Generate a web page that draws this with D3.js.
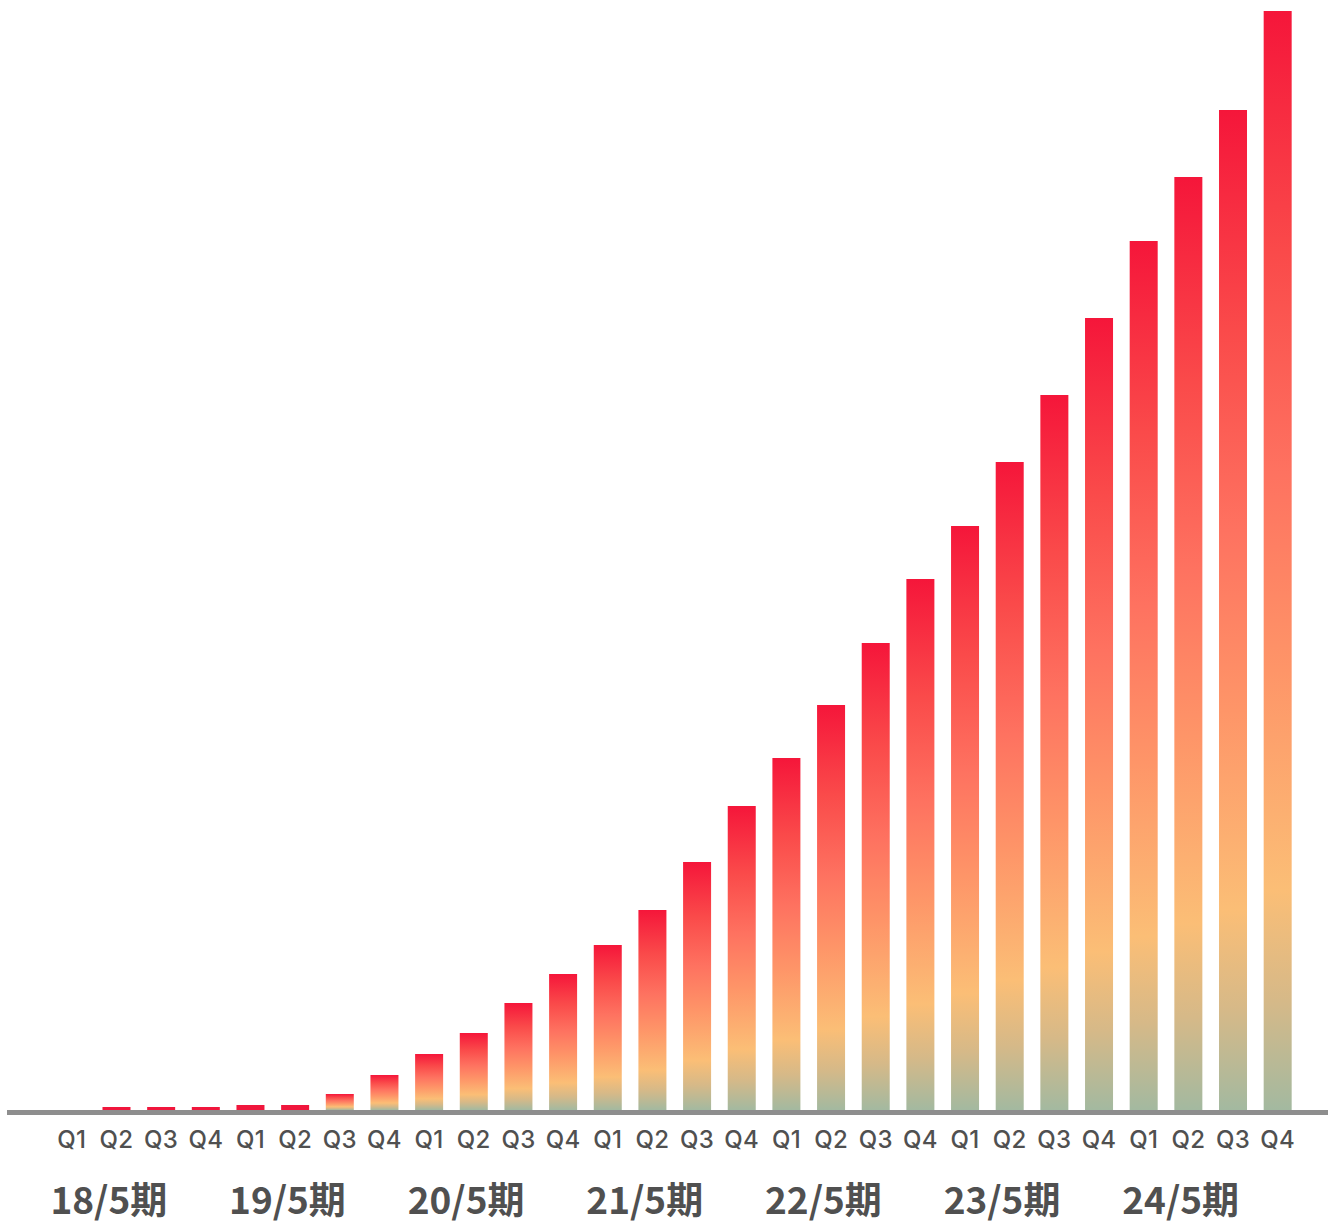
<!DOCTYPE html>
<html>
<head>
<meta charset="utf-8">
<script src="https://cdn.jsdelivr.net/npm/d3@7"></script>
<style>
  html, body { margin: 0; padding: 0; background: #ffffff; }
  svg { display: block; }
</style>
</head>
<body>
<svg id="chart" width="1328" height="1225"></svg>
<script>
// ---- data ----
const years = ["18/5期", "19/5期", "20/5期", "21/5期", "22/5期", "23/5期", "24/5期"];
const quarters = ["Q1", "Q2", "Q3", "Q4"];
const values = [
  0, 3, 3, 3,
  5, 5, 16, 35,
  56, 77, 107, 136,
  165, 200, 248, 304,
  352, 405, 467, 531,
  584, 648, 715, 792,
  869, 933, 1000, 1099
];

// ---- build ----
const svg = d3.select("#chart");
const W = 1328, H = 1225;
const baseY = 1110;

const items = [];
years.forEach((y, yi) => quarters.forEach((q, qi) => {
  const i = yi * 4 + qi;
  items.push({ i, year: y, q, v: values[i] });
}));

const x = d3.scaleBand()
  .domain(items.map(d => d.i))
  .range([49.5, 1300])
  .paddingInner(0.373)
  .paddingOuter(0.1865);

const y = d3.scaleLinear().domain([0, 1100]).range([baseY, 10]);

const defs = svg.append("defs");
const grad = defs.append("linearGradient")
  .attr("id", "barGrad")
  .attr("x1", 0).attr("y1", 0).attr("x2", 0).attr("y2", 1);
[
  [0, "#f5163a"],
  [0.22, "#fa4a4a"],
  [0.42, "#fe7260"],
  [0.6, "#fe9568"],
  [0.8, "#fbbe76"],
  [0.9, "#d6b988"],
  [1, "#a3b9a0"]
].forEach(([o, c]) => grad.append("stop").attr("offset", o).attr("stop-color", c));

svg.append("g")
  .selectAll("rect")
  .data(items.filter(d => d.v > 0))
  .join("rect")
  .attr("x", d => x(d.i))
  .attr("width", x.bandwidth())
  .attr("y", d => y(d.v))
  .attr("height", d => y(0) - y(d.v))
  .attr("fill", d => (y(0) - y(d.v)) < 8 ? "#f0163c" : "url(#barGrad)");

// baseline
svg.append("line")
  .attr("x1", 7).attr("x2", W)
  .attr("y1", baseY + 2.5).attr("y2", baseY + 2.5)
  .attr("stroke", "#8e8e8e")
  .attr("stroke-width", 5);

// quarter labels
svg.append("g")
  .selectAll("text")
  .data(items)
  .join("text")
  .attr("x", d => x(d.i) + x.bandwidth() / 2)
  .attr("y", 1148)
  .attr("text-anchor", "middle")
  .attr("font-family", "Inter, 'Noto Sans', sans-serif")
  .attr("font-size", 24)
  .attr("font-weight", 500)
  .attr("letter-spacing", 0.3)
  .attr("fill", "#505050")
  .text(d => d.q);

// year labels
svg.append("g")
  .selectAll("text")
  .data(years)
  .join("text")
  .attr("x", (d, yi) => {
    const a = x(yi * 4), b = x(yi * 4 + 3) + x.bandwidth();
    return (a + b) / 2 - 30;
  })
  .attr("y", 1214)
  .attr("text-anchor", "middle")
  .attr("font-family", "'Noto Sans CJK JP', 'Noto Sans', sans-serif")
  .attr("font-size", 37)
  .attr("font-weight", 600)
  .attr("fill", "#505050")
  .text(d => d);
</script>
</body>
</html>
